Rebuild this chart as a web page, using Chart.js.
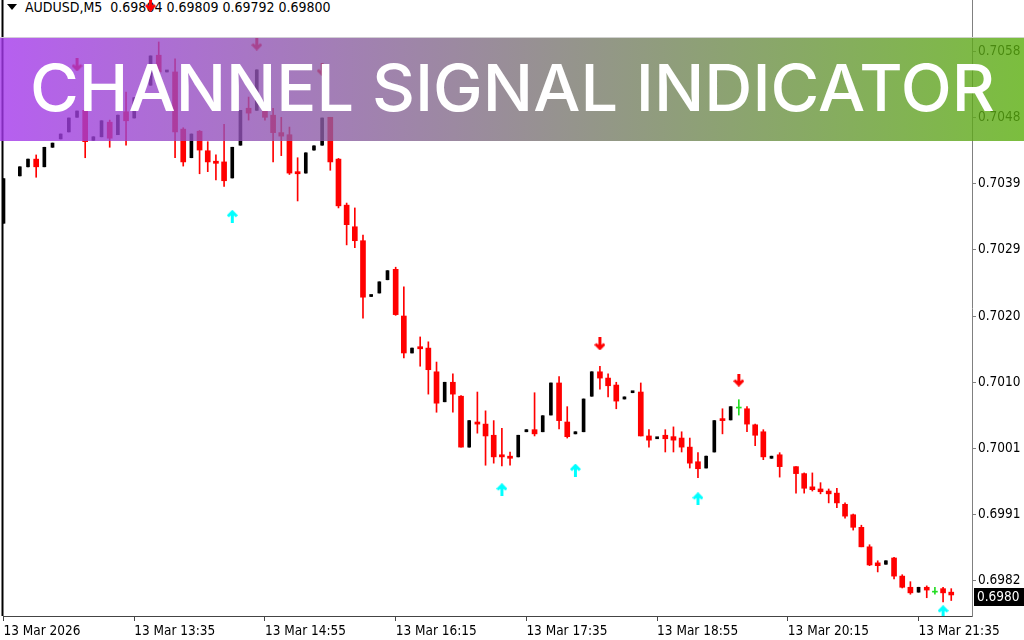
<!DOCTYPE html>
<html>
<head>
<meta charset="utf-8">
<title>AUDUSD M5 - Channel Signal Indicator</title>
<script src="https://cdn.jsdelivr.net/npm/chart.js@4.4.1/dist/chart.umd.min.js"></script>
<style>
  html, body { margin: 0; padding: 0; background: #fff; }
  #wrap { position: relative; width: 1024px; height: 640px; overflow: hidden; }
  #grafico { position: absolute; left: 0; top: 0; z-index: 1; }
  #titulo { position: absolute; left: 0; top: 0; width: 600px; height: 16px; z-index: 0;
            font: 14px "DejaVu Sans Condensed", "DejaVu Sans", sans-serif; line-height: 15px; color: #000; }
  #titulo .tri { position: absolute; left: 7px; top: 4px; width: 0; height: 0;
                 border-left: 5px solid transparent; border-right: 5px solid transparent; border-top: 6px solid #000; }
  #titulo .txt { position: absolute; left: 25px; top: 0; white-space: pre; }
  #banner { position: absolute; left: 0; top: 37px; width: 1024px; height: 104px; z-index: 2; box-sizing: border-box;
            background: linear-gradient(to right, rgba(164,55,236,0.8), rgba(90,174,14,0.8));
            border-top: 1px solid rgba(215,215,215,0.9); }
  #bannerTxt { position: absolute; left: 30px; top: 17px; font: 500 65px Inter, "Open Sans", sans-serif;
               line-height: 65px; color: #fff; white-space: nowrap; transform-origin: 0 0; }
</style>
</head>
<body>
<div id="wrap">
  <div id="titulo"><span class="tri"></span><span class="txt">AUDUSD,M5  0.69804 0.69809 0.69792 0.69800</span></div>
  <canvas id="grafico" width="1024" height="640"></canvas>
  <div id="banner"><span id="bannerTxt">CHANNEL SIGNAL INDICATOR</span></div>
</div>
<script>
// Candles M5 (indice 0 = 13 Mar 12:15), null = barra sem dado
const openP = [
  0.70333, null, 0.70401, 0.70414, 0.70425, 0.70414, 0.70442, 0.70454, 0.70464, 0.70485,
  0.70495, 0.70452, 0.70457, 0.70478, 0.70460, 0.70493, 0.70484, 0.70521, 0.70531, 0.70574,
  0.70550, 0.70550, 0.70468, 0.70427, 0.70465, 0.70437, 0.70422, 0.70421, 0.70398, 0.70445,
  0.70498, 0.70495, 0.70497, 0.70488, 0.70463, 0.70460, 0.70407, 0.70405, 0.70438, 0.70445,
  0.70485, 0.70425, 0.70359, 0.70328, 0.70308, 0.70228, 0.70233, 0.70252, 0.70267, 0.70200,
  0.70147, 0.70156, 0.70154, 0.70120, 0.70077, 0.70105, 0.70085, 0.70012, 0.70048, 0.70045,
  0.70029, 0.70001, 0.69999, 0.69998, 0.70034, 0.70037, 0.70034, 0.70058, 0.70104, 0.70048,
  0.70031, 0.70034, 0.70085, 0.70120, 0.70111, 0.70101, 0.70081, 0.70090, 0.70091, 0.70028,
  0.70024, 0.70029, 0.70027, 0.70025, 0.70012, 0.69991, 0.69982, 0.70005, 0.70051, 0.70051,
  0.70068, 0.70067, 0.70044, 0.70034, 0.69996, 0.70001, null, 0.69984, 0.69974, 0.69955,
  0.69952, 0.69949, 0.69946, 0.69930, 0.69915, 0.69897, 0.69869, 0.69846, 0.69844, 0.69853,
  0.69827, 0.69811, 0.69804, 0.69811, 0.69804, 0.69809, 0.69804
];
const highP = [
  0.70397, null, 0.70414, 0.70425, 0.70431, 0.70442, 0.70448, 0.70461, 0.70484, 0.70494,
  0.70498, 0.70457, 0.70480, 0.70481, 0.70488, 0.70521, 0.70513, 0.70528, 0.70573, 0.70593,
  0.70552, 0.70569, 0.70470, 0.70461, 0.70466, 0.70450, 0.70431, 0.70475, 0.70442, 0.70495,
  0.70514, 0.70553, 0.70506, 0.70498, 0.70485, 0.70471, 0.70427, 0.70434, 0.70444, 0.70484,
  0.70485, 0.70426, 0.70362, 0.70355, 0.70316, 0.70230, 0.70249, 0.70265, 0.70270, 0.70242,
  0.70154, 0.70170, 0.70163, 0.70134, 0.70105, 0.70117, 0.70086, 0.70050, 0.70091, 0.70064,
  0.70050, 0.70039, 0.70005, 0.70029, 0.70037, 0.70090, 0.70057, 0.70104, 0.70113, 0.70070,
  0.70034, 0.70081, 0.70120, 0.70128, 0.70117, 0.70105, 0.70084, 0.70091, 0.70104, 0.70037,
  0.70025, 0.70037, 0.70041, 0.70034, 0.70025, 0.70004, 0.69999, 0.70050, 0.70067, 0.70070,
  0.70080, 0.70070, 0.70045, 0.70037, 0.69999, 0.70004, null, 0.69984, 0.69975, 0.69975,
  0.69961, 0.69952, 0.69953, 0.69932, 0.69916, 0.69900, 0.69872, 0.69849, 0.69849, 0.69854,
  0.69829, 0.69819, 0.69811, 0.69813, 0.69811, 0.69811, 0.69809
];
const lowP = [
  0.70333, null, 0.70401, 0.70414, 0.70399, 0.70414, 0.70442, 0.70454, 0.70464, 0.70485,
  0.70427, 0.70452, 0.70457, 0.70442, 0.70460, 0.70445, 0.70484, 0.70521, 0.70531, 0.70546,
  0.70550, 0.70427, 0.70415, 0.70427, 0.70404, 0.70407, 0.70395, 0.70386, 0.70398, 0.70445,
  0.70481, 0.70495, 0.70481, 0.70421, 0.70430, 0.70403, 0.70365, 0.70405, 0.70438, 0.70445,
  0.70409, 0.70355, 0.70302, 0.70298, 0.70197, 0.70228, 0.70233, 0.70252, 0.70201, 0.70140,
  0.70147, 0.70128, 0.70088, 0.70062, 0.70077, 0.70062, 0.70012, 0.70012, 0.70032, 0.69986,
  0.69989, 0.69985, 0.69986, 0.69998, 0.70034, 0.70028, 0.70034, 0.70058, 0.70038, 0.70025,
  0.70031, 0.70034, 0.70085, 0.70095, 0.70084, 0.70067, 0.70081, 0.70090, 0.70028, 0.70012,
  0.70024, 0.70005, 0.70005, 0.70005, 0.69982, 0.69968, 0.69982, 0.70005, 0.70031, 0.70051,
  0.70058, 0.70034, 0.70014, 0.69994, 0.69996, 0.69969, null, 0.69946, 0.69946, 0.69949,
  0.69945, 0.69932, 0.69925, 0.69910, 0.69893, 0.69869, 0.69842, 0.69833, 0.69844, 0.69823,
  0.69810, 0.69801, 0.69804, 0.69796, 0.69801, 0.69790, 0.69792
];
const closeP = [
  0.70397, null, 0.70414, 0.70425, 0.70414, 0.70442, 0.70448, 0.70461, 0.70484, 0.70494,
  0.70450, 0.70457, 0.70480, 0.70455, 0.70488, 0.70480, 0.70513, 0.70528, 0.70573, 0.70550,
  0.70552, 0.70464, 0.70421, 0.70461, 0.70438, 0.70421, 0.70419, 0.70394, 0.70442, 0.70495,
  0.70491, 0.70553, 0.70485, 0.70463, 0.70458, 0.70405, 0.70404, 0.70434, 0.70444, 0.70484,
  0.70421, 0.70358, 0.70331, 0.70308, 0.70227, 0.70230, 0.70249, 0.70265, 0.70202, 0.70147,
  0.70154, 0.70153, 0.70123, 0.70075, 0.70105, 0.70088, 0.70012, 0.70050, 0.70045, 0.70028,
  0.69998, 0.69998, 0.69996, 0.70029, 0.70037, 0.70031, 0.70057, 0.70104, 0.70050, 0.70027,
  0.70034, 0.70081, 0.70120, 0.70111, 0.70100, 0.70078, 0.70084, 0.70091, 0.70028, 0.70022,
  0.70025, 0.70024, 0.70022, 0.70012, 0.69989, 0.69981, 0.69999, 0.70050, 0.70050, 0.70070,
  0.70068, 0.70045, 0.70029, 0.69998, 0.69999, 0.69984, null, 0.69974, 0.69953, 0.69951,
  0.69948, 0.69945, 0.69932, 0.69913, 0.69897, 0.69869, 0.69843, 0.69842, 0.69849, 0.69827,
  0.69811, 0.69803, 0.69811, 0.69807, 0.69804, 0.69803, 0.69800
];

// Sinais do indicador
const sellIdx = [9, 18, 31, 39, 73, 90];
const sellPrice = [0.70560, 0.70646, 0.70590, 0.70553, 0.70160, 0.70108];
const buyIdx = [28, 61, 70, 85, 115];
const buyPrice = [0.70343, 0.69951, 0.69979, 0.69938, 0.69776];

// Eixos
const xTickIdx = [0, 16, 32, 48, 64, 80, 96, 112];
const xTickLabels = ['13 Mar 2026', '13 Mar 13:35', '13 Mar 14:55', '13 Mar 16:15',
                     '13 Mar 17:35', '13 Mar 18:55', '13 Mar 20:15', '13 Mar 21:35'];
const yTickValues = [0.69820, 0.69915, 0.70010, 0.70105, 0.70200, 0.70295, 0.70390, 0.70485, 0.70580];
const yTickLabels = ['0.6982', '0.6991', '0.7001', '0.7010', '0.7020', '0.7029', '0.7039', '0.7048', '0.7058'];

const corAlta = '#000000';
const corBaixa = '#ff0000';
const corDoji = '#22dd22';
const fonteEixo = { family: '"DejaVu Sans Condensed", "DejaVu Sans", sans-serif', size: 13.5 };

// monta corpos e pavios
const pavios = [], corPavio = [], corposAlta = [], corposBaixa = [], corposDoji = [];
openP.forEach((o, i) => {
    if (o === null) return;
    const c = closeP[i];
    const cor = c > o ? corAlta : (c < o ? corBaixa : corDoji);
    pavios.push({ x: i, y: [lowP[i], highP[i]] });
    corPavio.push(cor);
    const corpo = { x: i, y: [Math.min(o, c), Math.max(o, c)] };
    if (c > o) corposAlta.push(corpo);
    else if (c < o) corposBaixa.push(corpo);
    else corposDoji.push(corpo);
});

// setas do indicador
const criaSeta = (cor, praCima) => {
    const cv = document.createElement('canvas');
    cv.width = 11; cv.height = 13;
    const g = cv.getContext('2d');
    if (!praCima) { g.translate(0, 13); g.scale(1, -1); }
    g.strokeStyle = cor;
    g.lineWidth = 3;
    g.beginPath(); g.moveTo(5.5, 2); g.lineTo(5.5, 13); g.stroke();
    g.beginPath(); g.moveTo(1, 6.5); g.lineTo(5.5, 2); g.lineTo(10, 6.5); g.stroke();
    return cv;
};

const molduraPlugin = {
    id: 'moldura',
    beforeDatasetsDraw(chart) {
        const { ctx, chartArea } = chart;
        ctx.save();
        ctx.fillStyle = '#000';
        ctx.fillRect(chartArea.left - 1.5, chartArea.top, 2, chartArea.bottom - chartArea.top);
        ctx.restore();
    },
    afterDraw(chart) {
        // caixa do preço atual no eixo
        const { ctx, chartArea } = chart;
        const ultimo = closeP[closeP.length - 1];
        const y = Math.round(chart.scales.y.getPixelForValue(ultimo));
        ctx.save();
        ctx.fillStyle = '#000';
        ctx.fillRect(chartArea.right + 2, y - 7, 60, 18);
        ctx.fillStyle = '#fff';
        ctx.font = '13.5px "DejaVu Sans Condensed", "DejaVu Sans", sans-serif';
        ctx.textBaseline = 'middle';
        ctx.fillText(ultimo.toFixed(4), chartArea.right + 5, y + 2);
        ctx.restore();
    }
};

new Chart(document.getElementById('grafico'), {
    type: 'bar',
    data: {
        datasets: [
            { data: pavios, backgroundColor: corPavio, barThickness: 1, grouped: false, order: 4 },
            { data: corposBaixa, backgroundColor: corBaixa, barThickness: 5, minBarLength: 2, grouped: false, order: 3 },
            { data: corposAlta, backgroundColor: corAlta, barThickness: 3, minBarLength: 2, grouped: false, order: 3 },
            { data: corposDoji, backgroundColor: corDoji, barThickness: 5, minBarLength: 1, grouped: false, order: 3 },
            { type: 'scatter', data: sellIdx.map((x, k) => ({ x, y: sellPrice[k] })), pointStyle: criaSeta('#ff0000', false), order: 1 },
            { type: 'scatter', data: buyIdx.map((x, k) => ({ x, y: buyPrice[k] })), pointStyle: criaSeta('#00ffff', true), order: 1 }
        ]
    },
    options: {
        responsive: false,
        animation: false,
        events: [],
        layout: { autoPadding: false, padding: { left: 3, top: 0, right: 0, bottom: 0 } },
        plugins: { legend: { display: false }, tooltip: { enabled: false } },
        scales: {
            x: {
                type: 'linear',
                min: -0.06,
                max: 118.54,
                offset: false,
                position: 'bottom',
                afterBuildTicks: (s) => { s.ticks = xTickIdx.map(v => ({ value: v })); },
                afterFit: (s) => { s.height = 24; s.paddingLeft = 0; s.paddingRight = 0; },
                ticks: {
                    callback: (v, i) => xTickLabels[i],
                    align: 'start', maxRotation: 0, minRotation: 0, autoSkip: false,
                    padding: 2, color: '#000', font: fonteEixo
                },
                grid: { offset: false, drawOnChartArea: false, tickLength: 5, color: '#444' },
                border: { color: '#444' }
            },
            y: {
                type: 'linear',
                position: 'right',
                min: 0.697698,
                max: 0.706532,
                afterBuildTicks: (s) => { s.ticks = yTickValues.map(v => ({ value: v })); },
                afterFit: (s) => { s.width = 52; s.paddingTop = 0; s.paddingBottom = 0; },
                ticks: { callback: (v, i) => yTickLabels[i], padding: 2, color: '#000', font: fonteEixo },
                grid: { drawOnChartArea: false, tickLength: 4, color: '#808080' },
                border: { color: '#808080' }
            }
        }
    },
    plugins: [molduraPlugin]
});

// ajusta a largura do texto do banner
const bannerTxt = document.getElementById('bannerTxt');
const largura = bannerTxt.getBoundingClientRect().width;
bannerTxt.style.transform = `scaleX(${965 / largura})`;
</script>
</body>
</html>
